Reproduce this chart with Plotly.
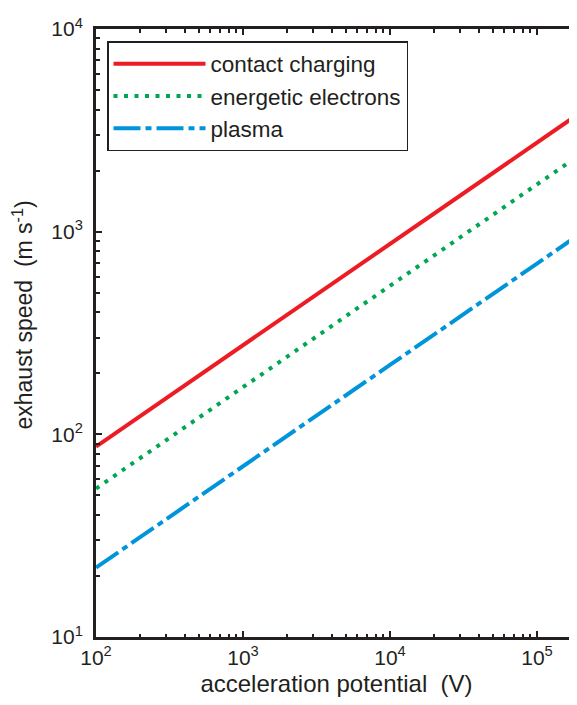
import math
import plotly.graph_objects as go

voltage = [100, 1000, 10000, 100000, 200000]
contact = [87, 275, 870, 2750, 3890]
energetic = [54, 171, 540, 1710, 2420]
plasma = [22, 70, 220, 696, 985]

series_names = ["contact charging", "energetic electrons", "plasma"]
x_tickvals = [100, 1000, 10000, 100000]
x_ticktext = ["10<sup>2</sup>", "10<sup>3</sup>", "10<sup>4</sup>", "10<sup>5</sup>"]
y_tickvals = [10, 100, 1000, 10000]
y_ticktext = ["10<sup>1</sup>", "10<sup>2</sup>", "10<sup>3</sup>", "10<sup>4</sup>"]
x_title = "acceleration potential&nbsp; (V)"
y_title = "exhaust speed&nbsp; (m s<sup>-1</sup>)"

AX = "#231F20"
FONT = "Liberation Sans, Arial, sans-serif"
FS = 23
TFS = 21

x_minor = [m * 10 ** e for e in range(2, 6) for m in range(2, 10)]
y_minor = [m * 10 ** e for e in range(1, 4) for m in range(2, 10)]

W, H = 569, 689
ML, MT, MB = 88, 21, 60
plot_w = W - ML
plot_h = H - MT - MB

fig = go.Figure()
fig.add_trace(go.Scatter(x=voltage, y=contact, mode="lines", name=series_names[0],
                         line=dict(color="#ED1C24", width=4)))
fig.add_trace(go.Scatter(x=voltage, y=energetic, mode="lines", name=series_names[1],
                         line=dict(color="#00A651", width=4, dash="4px,6.5px")))
fig.add_trace(go.Scatter(x=voltage, y=plasma, mode="lines", name=series_names[2],
                         line=dict(color="#0095DA", width=4, dash="27px,5px,6px,5px")))

fig.update_layout(
    width=W, height=H,
    margin=dict(l=ML, r=0, t=MT, b=MB, autoexpand=False),
    paper_bgcolor="white", plot_bgcolor="white",
    font=dict(family=FONT, color=AX, size=FS),
    showlegend=True,
    legend=dict(x=(99 - ML) / plot_w, y=1 - (33 - MT) / plot_h, xanchor="left", yanchor="top",
                bordercolor=AX, borderwidth=1.5, bgcolor="white",
                font=dict(size=22.5, family=FONT, color=AX),
                itemwidth=92, tracegroupgap=0),
    xaxis=dict(type="log", range=[2, 2 + plot_w / 147],
               tickvals=x_tickvals, ticktext=x_ticktext,
               ticks="inside", ticklen=6, tickwidth=1.5, tickcolor=AX,
               showline=True, linewidth=3, linecolor=AX, mirror="ticks",
               showgrid=False, zeroline=False, automargin=False,
               tickfont=dict(size=TFS, family=FONT, color=AX),
               minor=dict(tickvals=x_minor, ticks="inside", ticklen=3.5, tickwidth=1.5,
                          tickcolor=AX, showgrid=False),
               title=dict(text=x_title,
                          font=dict(size=24, family=FONT, color=AX), standoff=8)),
    yaxis=dict(type="log", range=[1, 4],
               tickvals=y_tickvals, ticktext=y_ticktext,
               ticks="inside", ticklen=6, tickwidth=1.5, tickcolor=AX,
               showline=True, linewidth=3, linecolor=AX, mirror=False,
               showgrid=False, zeroline=False, automargin=False,
               tickfont=dict(size=TFS, family=FONT, color=AX), ticklabelstandoff=6,
               minor=dict(tickvals=y_minor, ticks="inside", ticklen=3.5, tickwidth=1.5,
                          tickcolor=AX, showgrid=False)),
)

fig.add_annotation(text=y_title, textangle=-90, showarrow=False,
                   xref="paper", yref="paper",
                   x=(14 - ML) / plot_w, y=1 - (307.5 - MT) / plot_h,
                   xanchor="center", yanchor="middle",
                   font=dict(size=FS, family=FONT, color=AX))

fig.write_html("out.html")
